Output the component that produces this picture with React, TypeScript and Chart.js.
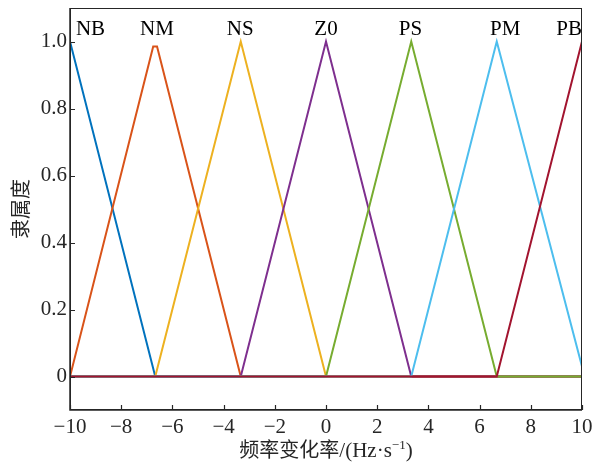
import React, { useEffect, useRef } from "react";
import { Chart, registerables } from "chart.js";

Chart.register(...registerables);

// breakpoints of the triangular membership functions
const X_BREAKS = [-10, -6.67, -3.33, 0, 3.33, 6.67, 10];
const NM_X = [-10, -6.75, -6.6, -3.33, 0, 3.33, 6.67, 10];

const NB_Y = [1, 0, 0, 0, 0, 0, 0];
const NM_Y = [0, 0.985, 0.985, 0, 0, 0, 0, 0];
const NS_Y = [0, 0, 1, 0, 0, 0, 0];
const Z0_Y = [0, 0, 0, 1, 0, 0, 0];
const PS_Y = [0, 0, 0, 0, 1, 0, 0];
const PM_Y = [0, 0, 0, 0, 0, 1, 0.03];
const PB_Y = [0, 0, 0, 0, 0, 0, 1];

const SET_NAMES = ["NB", "NM", "NS", "Z0", "PS", "PM", "PB"];
const SET_COLORS = ["#0072BD", "#D95319", "#EDB120", "#7E2F8E", "#77AC30", "#4DBEEE", "#A2142F"];
const NAME_X = [-9.2, -6.6, -3.35, 0, 3.3, 7.0, 9.5];
const NAME_Y = 1.037;

const X_TICKS = [-10, -8, -6, -4, -2, 0, 2, 4, 6, 8, 10];
const Y_TICKS = [0, 0.2, 0.4, 0.6, 0.8, 1.0];

const X_TITLE_CJK = "频率变化率";
const X_TITLE_UNIT = "/(Hz·s";
const X_TITLE_SUP = "\u22121";
const X_TITLE_END = ")";
const Y_TITLE = "隶属度";

const SERIF = "'Liberation Serif', 'DejaVu Serif', serif";
const CJK = "'Noto Sans CJK SC', sans-serif";
const AXIS_COLOR = "#262626";

const decorPlugin = {
  id: "decor",
  afterDraw(chart: any) {
    const { ctx, chartArea: a, scales } = chart;
    const xs = scales.x;
    const ys = scales.y;
    ctx.save();
    // box
    ctx.strokeStyle = AXIS_COLOR;
    ctx.lineWidth = 1;
    ctx.strokeRect(a.left + 0.5, a.top + 0.5, a.right - a.left - 1, a.bottom - a.top - 1);
    ctx.lineWidth = 1.5;
    ctx.beginPath();
    ctx.moveTo(a.left, a.top);
    ctx.lineTo(a.left, a.bottom);
    ctx.lineTo(a.right, a.bottom);
    ctx.stroke();
    // inward ticks
    ctx.lineWidth = 1.2;
    ctx.beginPath();
    X_TICKS.forEach((v) => {
      const px = Math.round(xs.getPixelForValue(v)) + 0.5;
      ctx.moveTo(px, a.bottom);
      ctx.lineTo(px, a.bottom - 5);
    });
    Y_TICKS.forEach((v) => {
      const py = Math.round(ys.getPixelForValue(v)) + 0.5;
      ctx.moveTo(a.left, py);
      ctx.lineTo(a.left + 5, py);
    });
    ctx.stroke();
    // set names
    ctx.fillStyle = "#000000";
    ctx.font = `21px ${SERIF}`;
    ctx.textAlign = "center";
    ctx.textBaseline = "middle";
    SET_NAMES.forEach((n, i) => {
      ctx.fillText(n, xs.getPixelForValue(NAME_X[i]), ys.getPixelForValue(NAME_Y));
    });
    // x title
    ctx.fillStyle = AXIS_COLOR;
    ctx.textAlign = "left";
    ctx.textBaseline = "alphabetic";
    const parts = [
      { t: X_TITLE_CJK, f: `20px ${CJK}`, dy: 0 },
      { t: X_TITLE_UNIT, f: `21px ${SERIF}`, dy: 0 },
      { t: X_TITLE_SUP, f: `13px ${SERIF}`, dy: -8 },
      { t: X_TITLE_END, f: `21px ${SERIF}`, dy: 0 },
    ];
    let total = 0;
    const widths = parts.map((p) => {
      ctx.font = p.f;
      const w = ctx.measureText(p.t).width;
      total += w;
      return w;
    });
    let cx = (a.left + a.right) / 2 - total / 2;
    const base = 457;
    parts.forEach((p, i) => {
      ctx.font = p.f;
      ctx.fillText(p.t, cx, base + p.dy);
      cx += widths[i];
    });
    // y title
    ctx.translate(20, (a.top + a.bottom) / 2);
    ctx.rotate(-Math.PI / 2);
    ctx.font = `20px ${CJK}`;
    ctx.textAlign = "center";
    ctx.textBaseline = "middle";
    ctx.fillText(Y_TITLE, 0, 0);
    ctx.restore();
  },
};

export default function App() {
  const ref = useRef<HTMLCanvasElement | null>(null);
  useEffect(() => {
    document.body.style.margin = "0";
    const canvas = ref.current;
    if (!canvas) return;
    const allY = [NB_Y, NM_Y, NS_Y, Z0_Y, PS_Y, PM_Y, PB_Y];
    const datasets = allY.map((ys, i) => {
      const xsArr = i === 1 ? NM_X : X_BREAKS;
      return {
        label: SET_NAMES[i],
        data: ys.map((y, j) => ({ x: xsArr[j], y })),
        borderColor: SET_COLORS[i],
        backgroundColor: SET_COLORS[i],
        borderWidth: 2,
        pointRadius: 0,
        showLine: true,
        fill: false,
        tension: 0,
        order: allY.length - i,
      };
    });
    const chart = new Chart(canvas, {
      type: "scatter",
      data: { datasets },
      options: {
        animation: false,
        responsive: false,
        layout: { padding: { top: 8, right: 10, left: 0, bottom: 0 } },
        plugins: { legend: { display: false }, tooltip: { enabled: false } },
        scales: {
          x: {
            type: "linear",
            min: -10,
            max: 10,
            grid: { display: false, drawTicks: false },
            border: { display: false },
            afterBuildTicks: (s: any) => {
              s.ticks = X_TICKS.map((v) => ({ value: v }));
            },
            afterFit: (s: any) => {
              s.height = 55;
              s.paddingLeft = 0;
              s.paddingRight = 0;
              s.paddingTop = 0;
              s.paddingBottom = 0;
            },
            ticks: {
              padding: 5,
              color: AXIS_COLOR,
              font: { family: SERIF, size: 21 },
              maxRotation: 0,
              autoSkip: false,
              callback: (v: any) => String(v).replace("-", "\u2212"),
            },
          },
          y: {
            type: "linear",
            min: -0.1,
            max: 1.1,
            grid: { display: false, drawTicks: false },
            border: { display: false },
            afterBuildTicks: (s: any) => {
              s.ticks = Y_TICKS.map((v) => ({ value: v }));
            },
            afterFit: (s: any) => {
              s.width = 70;
              s.paddingLeft = 0;
              s.paddingRight = 0;
              s.paddingTop = 0;
              s.paddingBottom = 0;
            },
            ticks: {
              padding: 3,
              color: AXIS_COLOR,
              font: { family: SERIF, size: 21 },
              autoSkip: false,
              callback: (v: any) => (Number(v) === 0 ? "0" : Number(v).toFixed(1)),
            },
          },
        },
      },
      plugins: [decorPlugin],
    });
    return () => chart.destroy();
  }, []);
  return <canvas ref={ref} width={592} height={465} style={{ display: "block" }} />;
}
